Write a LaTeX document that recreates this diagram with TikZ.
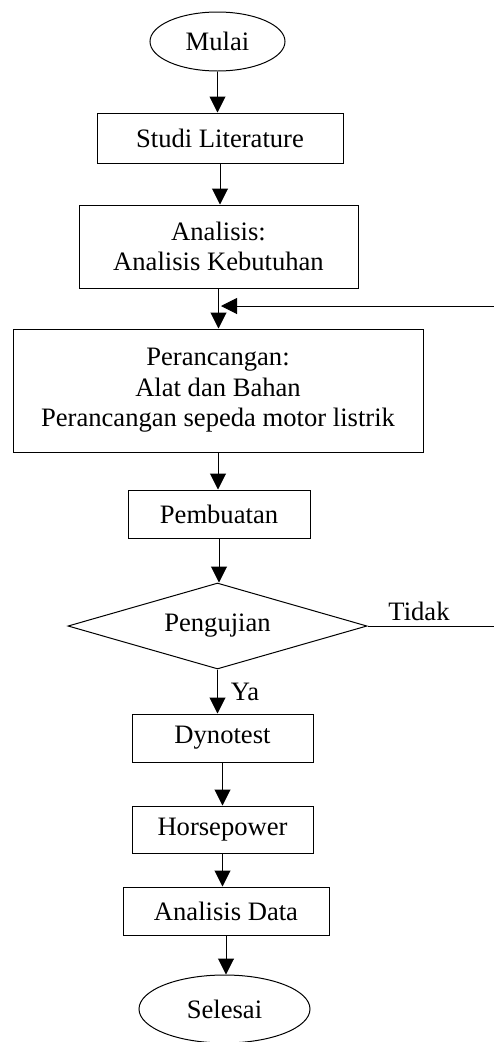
\documentclass[tikz,border=0pt]{standalone}
\usepackage{fontspec}
\setmainfont{Liberation Serif}
\usetikzlibrary{shapes.geometric,arrows.meta}
\begin{document}
\begin{tikzpicture}[x=1pt,y=-1pt,
  every node/.style={font=\fontsize{26.6}{30.5}\selectfont, inner sep=0pt, align=center},
  box/.style={draw, line width=1pt, rectangle},
  term/.style={draw, line width=1pt, ellipse},
  decision/.style={draw, line width=1pt, diamond, aspect=3.48},
  flow/.style={line width=1pt, -{Triangle[length=16pt,width=16pt]}},
  plain/.style={line width=1pt}]
\useasboundingbox (0,0) rectangle (493,1042);
\node[term, minimum width=135pt, minimum height=59pt] (mulai) at (217.5,41.5) {Mulai};
\node[box, minimum width=246pt, minimum height=50pt] (studi) at (220,138) {Studi Literature};
\node[box, minimum width=279pt, minimum height=83pt] (analisis) at (218.5,246.5) {Analisis:\\Analisis Kebutuhan};
\node[box, minimum width=410pt, minimum height=123pt] (rancang) at (218,390.5) {Perancangan:\\Alat dan Bahan\\Perancangan sepeda motor listrik};
\node[box, minimum width=182pt, minimum height=48pt] (buat) at (219,514) {Pembuatan};
\node[decision, minimum width=299pt, minimum height=86pt] (uji) at (217.5,626) {Pengujian};
\node[box, minimum width=181pt, minimum height=48pt] (dyno) at (222.5,738) {Dynotest};
\node[box, minimum width=181pt, minimum height=47pt] (hp) at (222.5,829.5) {Horsepower};
\node[box, minimum width=206pt, minimum height=48pt] (data) at (226,911) {Analisis Data};
\node[term, minimum width=171pt, minimum height=68pt] (selesai) at (224.5,1009) {Selesai};
\node (tidak) at (419,611) {Tidak};
\node (ya) at (245,692) {Ya};
\coordinate (merge) at (221,306);
\coordinate (r1) at (497,626);
\coordinate (r2) at (497,306);
\draw[flow] (mulai.south) -- (mulai.south |- studi.north);
\draw[flow] (studi.south) -- (studi.south |- analisis.north);
\draw[flow] (analisis.south) -- (analisis.south |- rancang.north);
\draw[flow] (rancang.south) -- (rancang.south |- buat.north);
\draw[flow] (buat.south) -- (buat.south |- uji.north);
\draw[flow] (uji.south) -- (uji.south |- dyno.north);
\draw[flow] (dyno.south) -- (dyno.south |- hp.north);
\draw[flow] (hp.south) -- (hp.south |- data.north);
\draw[flow] (data.south) -- (data.south |- selesai.north);
\draw[flow] (uji.east) -- (r1) -- (r2) -- (merge);
\end{tikzpicture}
\end{document}
